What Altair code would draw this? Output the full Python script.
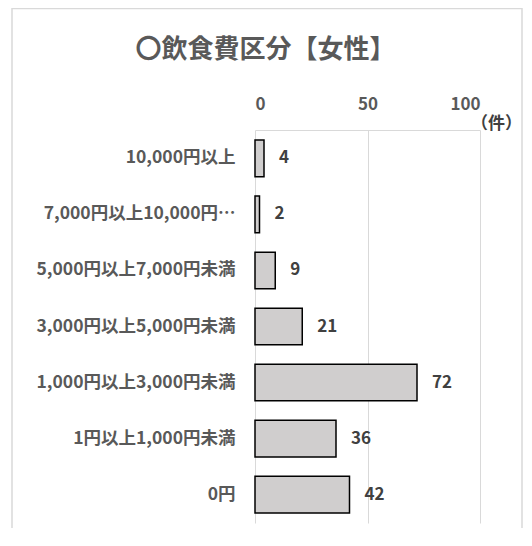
import altair as alt
import pandas as pd

categories = [
    "10,000円以上",
    "7,000円以上10,000円未満",
    "5,000円以上7,000円未満",
    "3,000円以上5,000円未満",
    "1,000円以上3,000円未満",
    "1円以上1,000円未満",
    "0円",
]
counts = [4, 2, 9, 21, 72, 36, 42]
x_ticks = [0, 50, 100]
title_text = "〇飲食費区分【女性】"
unit_text = "（件）"

df = pd.DataFrame({"category": categories, "count": counts})

FONT = "Noto Sans CJK JP"
GRID = "#d9d9d9"
TXT = "#595959"

x_enc = alt.X(
    "count:Q",
    scale=alt.Scale(domain=[0, 100], nice=False),
    axis=alt.Axis(
        orient="top",
        values=x_ticks,
        grid=True,
        gridColor=GRID,
        gridWidth=1,
        domain=True,
        domainColor=GRID,
        domainWidth=1,
        ticks=False,
        tickSize=0,
        labelPadding=17,
        labelFont=FONT,
        labelFontSize=17,
        labelFontWeight="bold",
        labelColor=TXT,
        title=unit_text,
        titleFont=FONT,
        titleFontSize=17,
        titleFontWeight="bold",
        titleColor="#404040",
        titleAngle=0,
        titleAlign="center",
        titleBaseline="middle",
        titleX=241,
        titleY=-7,
    ),
)
y_enc = alt.Y(
    "category:N",
    sort=categories,
    scale=alt.Scale(paddingInner=0.345, paddingOuter=0.18),
    axis=alt.Axis(
        title=None,
        domain=False,
        ticks=False,
        labelPadding=20,
        labelFont=FONT,
        labelFontSize=17.5,
        labelFontWeight="bold",
        labelColor=TXT,
        labelLimit=300,
        labelExpr="length(datum.label) > 16 ? substring(datum.label, 0, 15) + '…' : datum.label",
    ),
)

frame = alt.Chart(pd.DataFrame({"f": [0]})).mark_rect(
    fill="transparent", stroke=GRID, strokeWidth=1.5
).encode(
    x=alt.value(-243), x2=alt.value(267), y=alt.value(-121.5), y2=alt.value(430)
)

bars = alt.Chart(df).mark_bar(
    fill="#d0cece", stroke="#000000", strokeWidth=1.5
).encode(x=x_enc, y=y_enc)

labels = alt.Chart(df).mark_text(
    align="left", baseline="middle", dx=15, font=FONT, fontSize=17,
    fontWeight="bold", color="#404040"
).encode(
    x=alt.X("count:Q"),
    y=alt.Y("category:N", sort=categories),
    text=alt.Text("count:Q"),
)

chart = alt.layer(frame, bars, labels).properties(
    width=225,
    height=393,
    autosize=alt.AutoSizeParams(type="none"),
    padding={"left": 247, "top": 122, "right": 44, "bottom": 5},
    title=alt.TitleParams(
        text=title_text,
        font=FONT,
        fontSize=26,
        fontWeight="bold",
        color=TXT,
        anchor="middle",
        dx=-102,
        offset=0,
        dy=55,
    ),
).configure_view(strokeOpacity=0)

chart.save("out.html", embed_options={"renderer": "svg", "actions": False})
